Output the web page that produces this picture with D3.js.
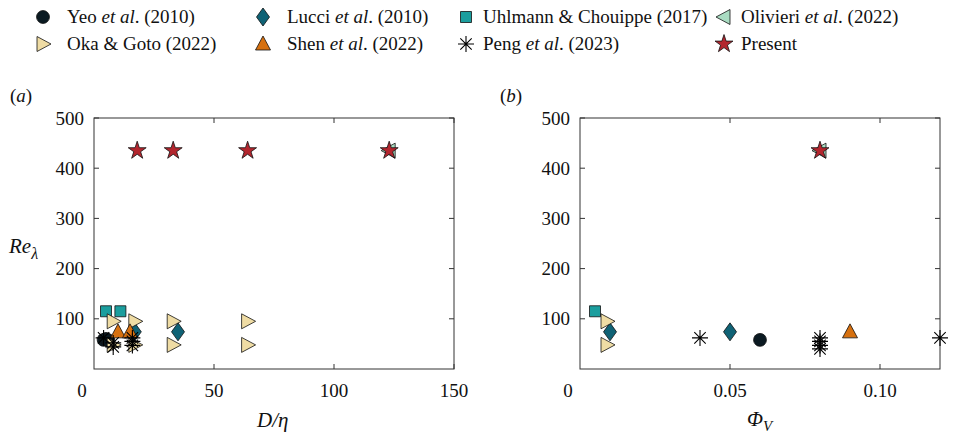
<!DOCTYPE html>
<html><head><meta charset="utf-8">
<script src="https://cdn.jsdelivr.net/npm/d3@7"></script>
<style>body{margin:0;background:#fff}text{font-family:'Liberation Serif','DejaVu Serif',serif}</style>
</head><body>
<svg id="c" width="957" height="438" font-family="Liberation Serif, DejaVu Serif, serif"></svg>
<script>
// ---- data ----
const seriesNames = ["Yeo et al. (2010)","Lucci et al. (2010)","Uhlmann & Chouippe (2017)","Olivieri et al. (2022)","Oka & Goto (2022)","Shen et al. (2022)","Peng et al. (2023)","Present"];
// panel (a): D/eta vs Re_lambda
const yeoA   = [[4,58],[5,60],[6,57]];
const lucciA = [[17,74],[35,74]];
const uhlA   = [[5,115],[11,115]];
const oliA   = [[123,435]];
const okaA   = [[8,95],[17,95],[33,95],[64,95],[8,48],[17,48],[33,48],[64,48]];
const shenA  = [[10,74],[15,74]];
const pengA  = [[4,62],[8,52],[8,44],[16,62],[16,55],[16,47]];
const presA  = [[18,435],[33,435],[64,435],[123,435]];
// panel (b): Phi_V vs Re_lambda
const yeoB   = [[0.06,58]];
const lucciB = [[0.01,74],[0.05,74]];
const uhlB   = [[0.005,115]];
const oliB   = [[0.08,435]];
const okaB   = [[0.009,95],[0.009,48]];
const shenB  = [[0.09,74]];
const pengB  = [[0.04,62],[0.08,62],[0.08,55],[0.08,47],[0.08,40],[0.12,62]];
const presB  = [[0.08,435]];
const yTicks = [100,200,300,400,500];
const xTicksA = [50,100,150];
const xTicksB = [0.05,0.10];

const FONT = "Liberation Serif, DejaVu Serif, serif";
const svg = d3.select("#c");
const styles = [
  {shape:"circle", fill:"#0b1a22"},
  {shape:"diamond", fill:"#0f6275"},
  {shape:"square", fill:"#1b9e9e"},
  {shape:"tleft", fill:"#a9dcc2"},
  {shape:"tright", fill:"#efdca4"},
  {shape:"tup", fill:"#d6700f"},
  {shape:"ast", fill:"none"},
  {shape:"star", fill:"#b3262e"}
];
function markerPath(shape){
  switch(shape){
    case "circle": return d3.symbol(d3.symbolCircle,130)();
    case "diamond": return "M0,-9L6.5,0L0,9L-6.5,0Z";
    case "square": return "M-5.5,-5.5H5.5V5.5H-5.5Z";
    case "tleft": return "M6,-7.5L-8,0L6,7.5Z";
    case "tright": return "M-6,-7.5L8,0L-6,7.5Z";
    case "tup": return "M-7.5,6L0,-8L7.5,6Z";
    case "star": return d3.symbol(d3.symbolStar,100)();
    case "ast": return "M0,-8V8M-8,0H8M-5.7,-5.7L5.7,5.7M-5.7,5.7L5.7,-5.7";
  }
}
function drawMarker(g, shape, fill, x, y){
  const p = g.append("path").attr("d", markerPath(shape)).attr("transform",`translate(${x},${y})`);
  if(shape==="ast") p.attr("fill","none").attr("stroke","#000").attr("stroke-width",1.1);
  else p.attr("fill",fill).attr("stroke","#111").attr("stroke-width",0.8);
}
function txt(g){ return g.append("text").attr("font-family",FONT).attr("fill","#111"); }

// legend
const legX = [43,263,466,724];
const legY = [17,44];
seriesNames.forEach((name,i)=>{
  const r = Math.floor(i/4), c = i%4;
  const st = styles[i];
  drawMarker(svg, st.shape, st.fill, legX[c], legY[r]);
  const t = txt(svg).attr("x", legX[c]+ (c>=2?17:24)).attr("y", legY[r]+6).attr("font-size",19);
  const m = name.match(/^(.*?)(et al\.)(.*)$/);
  if(m){
    t.append("tspan").text(m[1]);
    t.append("tspan").attr("font-style","italic").text("et al");
    t.append("tspan").text("."+m[3]);
  } else t.text(name);
});

function panel(x0, x1, xDomain, xTicks, fmt, sets, label, labelX){
  const y0 = 369, y1 = 118;
  const x = d3.scaleLinear().domain(xDomain).range([x0,x1]);
  const y = d3.scaleLinear().domain([0,500]).range([y0,y1]);
  const g = svg.append("g");
  g.append("rect").attr("x",x0).attr("y",y1).attr("width",x1-x0).attr("height",y0-y1).attr("fill","none").attr("stroke","#333").attr("stroke-width",1);
  const tk = 5;
  xTicks.forEach(v=>{
    g.append("line").attr("x1",x(v)).attr("x2",x(v)).attr("y1",y0).attr("y2",y0-tk).attr("stroke","#333");
    g.append("line").attr("x1",x(v)).attr("x2",x(v)).attr("y1",y1).attr("y2",y1+tk).attr("stroke","#333");
    txt(g).attr("x",x(v)).attr("y",y0+28).attr("text-anchor","middle").attr("font-size",19).text(fmt(v));
  });
  yTicks.forEach(v=>{
    g.append("line").attr("x1",x0).attr("x2",x0+tk).attr("y1",y(v)).attr("y2",y(v)).attr("stroke","#333");
    g.append("line").attr("x1",x1).attr("x2",x1-tk).attr("y1",y(v)).attr("y2",y(v)).attr("stroke","#333");
    txt(g).attr("x",x0-10).attr("y",y(v)+6.5).attr("text-anchor","end").attr("font-size",19).text(v);
  });
  txt(g).attr("x",x0-12).attr("y",y0+28).attr("text-anchor","middle").attr("font-size",19).text("0");
  const lt = txt(g).attr("x",labelX).attr("y",102).attr("font-size",19);
  lt.append("tspan").text("(");
  lt.append("tspan").attr("font-style","italic").text(label);
  lt.append("tspan").text(")");
  sets.forEach((s,i)=>{
    s.forEach(d=>drawMarker(g, styles[i].shape, styles[i].fill, x(d[0]), y(d[1])));
  });
  return g;
}
panel(94,454,[0,150],xTicksA,d3.format("d"),[yeoA,lucciA,uhlA,oliA,okaA,shenA,pengA,presA],"a",10);
panel(580,940,[0,0.12],xTicksB,d3.format(".2f"),[yeoB,lucciB,uhlB,oliB,okaB,shenB,pengB,presB],"b",500);

// axis labels
txt(svg).attr("x",257).attr("y",427).attr("font-size",21).attr("font-style","italic").text("D/η");
const ph = txt(svg).attr("x",747).attr("y",426).attr("font-size",21).attr("font-style","italic");
ph.append("tspan").text("Φ");
ph.append("tspan").attr("font-size",15).attr("dy",5).text("V");
const re = txt(svg).attr("x",9).attr("y",253).attr("font-size",21).attr("font-style","italic");
re.append("tspan").text("Re");
re.append("tspan").attr("font-size",16).attr("dy",6).text("λ");
</script>
</body></html>
